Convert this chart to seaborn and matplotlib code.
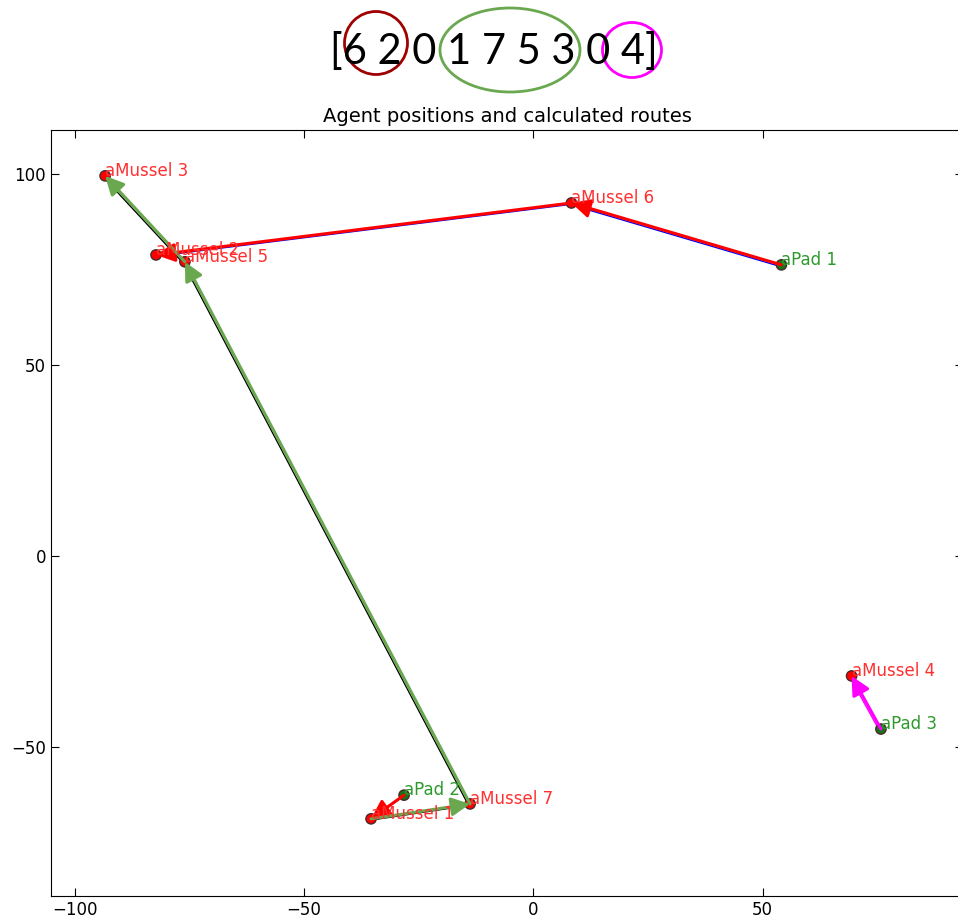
import pandas as pd
import seaborn as sns
import matplotlib.pyplot as plt
import matplotlib.transforms as mtransforms
from matplotlib.patches import Ellipse

# agent positions
mussel_names = ["aMussel 1", "aMussel 2", "aMussel 3", "aMussel 4", "aMussel 5", "aMussel 6", "aMussel 7"]
mussel_x = [-35.4, -82.3, -93.4, 69.4, -76.0, 8.3, -13.8]
mussel_y = [-68.8, 78.8, 99.5, -31.4, 77.0, 92.4, -64.9]

pad_names = ["aPad 1", "aPad 2", "aPad 3"]
pad_x = [54.1, -28.2, 75.8]
pad_y = [76.2, -62.6, -45.3]

# calculated route, 0 separates the pads
route_order = [6, 2, 0, 1, 7, 5, 3, 0, 4]
leg_colors = [["red", "red"],
              ["red", "#6aa84f", "#6aa84f", "#6aa84f"],
              ["magenta"]]
path_colors = ["blue", "black", "magenta"]

df = pd.DataFrame({
    "name": mussel_names + pad_names,
    "x": mussel_x + pad_x,
    "y": mussel_y + pad_y,
    "kind": ["mussel"] * len(mussel_names) + ["pad"] * len(pad_names),
})

# split route into one list per pad
routes = [[]]
for r in route_order:
    if r == 0:
        routes.append([])
    else:
        routes[-1].append(r)

sns.set_style("ticks", {"axes.edgecolor": "black", "xtick.color": "black",
                        "ytick.color": "black", "text.color": "black"})
fig = plt.figure(figsize=(9.58, 9.21), dpi=100)
ax = fig.add_axes([51 / 958, 25 / 921, 912 / 958, 766 / 921])

sns.scatterplot(data=df, x="x", y="y", hue="kind",
                palette={"mussel": "red", "pad": "#157515"},
                s=55, edgecolor="#4a2a2a", linewidth=1, legend=False, ax=ax, zorder=3)

label_colors = {"mussel": "#ff3030", "pad": "#2e9a2e"}
for _, row in df.iterrows():
    ax.text(row["x"], row["y"], row["name"], color=label_colors[row["kind"]],
            fontsize=12, zorder=5)

shift = mtransforms.ScaledTranslation(-1.5 / 100, -1.5 / 100, fig.dpi_scale_trans)
for i, stops in enumerate(routes):
    xs = [pad_x[i]] + [mussel_x[s - 1] for s in stops]
    ys = [pad_y[i]] + [mussel_y[s - 1] for s in stops]
    ax.plot(xs, ys, color=path_colors[i], lw=1, zorder=2,
            transform=ax.transData + shift)
    for j in range(len(stops)):
        ax.annotate("", xy=(xs[j + 1], ys[j + 1]), xytext=(xs[j], ys[j]),
                    arrowprops=dict(arrowstyle="-|>,head_length=0.8,head_width=0.4",
                                    color=leg_colors[i][j], lw=2.2,
                                    shrinkA=0, shrinkB=0, mutation_scale=14),
                    zorder=4)

ax.set_xlim(-105.2, 93.7)
ax.set_ylim(-89, 111.5)
ax.set_xticks([-100, -50, 0, 50])
ax.set_yticks([-50, 0, 50, 100])
ax.tick_params(direction="in", top=True, right=True, labelsize=12, length=6)
ax.set_xlabel("")
ax.set_ylabel("")
ax.set_title("Agent positions and calculated routes", fontsize=14)

# route vector shown above the plot
fig.text(494 / 958, 1 - 52 / 921, "[6 2 0 1 7 5 3 0 4]", fontsize=30,
         family="Lato", color="black", ha="center", va="center")
for cx, cy, w, h, c in [(376, 43, 63, 63, "#a00000"),
                        (510, 50, 140, 84, "#6aa84f"),
                        (632, 50, 59, 55, "#ff00ff")]:
    fig.patches.append(Ellipse((cx / 958, 1 - cy / 921), w / 958, h / 921,
                               transform=fig.transFigure, fill=False,
                               edgecolor=c, lw=2))

plt.savefig("out.png", dpi=100)
